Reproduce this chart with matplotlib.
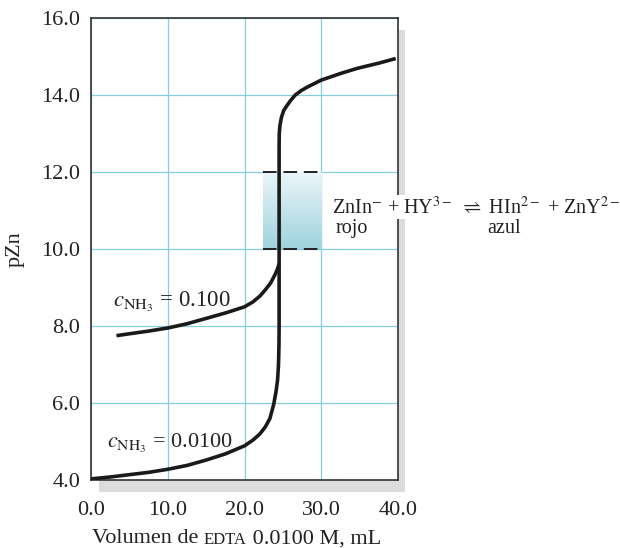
import matplotlib.pyplot as plt
import numpy as np
from matplotlib.patches import Rectangle
from matplotlib.colors import LinearSegmentedColormap

plt.rcParams['font.family'] = ['Liberation Serif', 'DejaVu Serif']
plt.rcParams['mathtext.fontset'] = 'stix'

# curva c_NH3 = 0.0100 (incluye el tramo vertical y la parte superior comun)
vol_low = [0, 2.5, 5, 7.5, 10, 12.5, 15, 17.5, 20, 21.1, 22, 22.7, 23.3, 23.8, 24.1,
           24.3, 24.42, 24.48, 24.5, 24.5, 24.52, 24.6, 24.8, 25.1, 25.5, 26.0, 26.6,
           27.4, 28.3, 30, 32.5, 34.6, 37.5, 39.7]
pzn_low = [4.03, 4.08, 4.14, 4.2, 4.28, 4.38, 4.52, 4.68, 4.89, 5.04, 5.2, 5.38, 5.6,
           5.97, 6.3, 6.6, 7.0, 7.5, 8.0, 12.7, 13.0, 13.2, 13.42, 13.6, 13.72, 13.86,
           14.0, 14.12, 14.22, 14.39, 14.56, 14.69, 14.83, 14.95]

# curva c_NH3 = 0.100 (se une al tramo vertical)
vol_high = [3.3, 5, 7.5, 10, 12.5, 15, 17.5, 20, 21.1, 22, 22.7, 23.4, 24.0, 24.3, 24.5]
pzn_high = [7.75, 7.8, 7.87, 7.95, 8.06, 8.2, 8.34, 8.5, 8.63, 8.78, 8.94, 9.12, 9.35, 9.49, 9.62]

# intervalo de viraje del indicador
zona_x = [22.45, 30.06]
zona_y = [10.0, 12.0]

xticks = [0, 10, 20, 30, 40]
yticks = [4, 6, 8, 10, 12, 14, 16]

fig = plt.figure(figsize=(6.2, 5.48), dpi=100)
ax = fig.add_axes([0.147, 0.124, 0.495, 0.843])
ax.set_zorder(2)

# sombra del marco
sombra = Rectangle((99 / 620, 1 - 492 / 548), 306 / 620, 462 / 548,
                   transform=fig.transFigure, facecolor='#dcdcdc', edgecolor='none', zorder=0)
fig.patches.append(sombra)
ax.set_facecolor('white')

ax.set_xlim(0, 40)
ax.set_ylim(4, 16)
ax.set_xticks(xticks)
ax.set_yticks(yticks)
ax.set_xticklabels(['%.1f' % v for v in xticks])
ax.set_yticklabels(['%.1f' % v for v in yticks])
ax.tick_params(length=0, labelsize=16, colors='#222222')
ax.tick_params(axis='x', pad=15)
ax.tick_params(axis='y', pad=8)
ax.grid(True, color='#86cedb', linewidth=0.9)
ax.set_axisbelow(True)
for s in ax.spines.values():
    s.set_linewidth(1.2)
    s.set_color('#333333')

# degradado del intervalo de viraje
grad = np.linspace(0, 1, 100).reshape(-1, 1)
cmap = LinearSegmentedColormap.from_list('viraje', ['#9fd3de', '#eaf5f8'])
ax.imshow(grad, extent=[zona_x[0], zona_x[1], zona_y[0], zona_y[1]], cmap=cmap,
          aspect='auto', origin='lower', zorder=1.5)
for yv in zona_y:
    ax.plot(zona_x, [yv, yv], color='#222222', lw=1.4, linestyle=(0, (7, 3.5)), zorder=2)

ax.plot(vol_low, pzn_low, color='#1a1a1a', lw=2.6, solid_capstyle='butt', zorder=3)
ax.plot(vol_high, pzn_high, color='#1a1a1a', lw=2.6, solid_capstyle='butt', zorder=3)

ax.text(2.87, 8.49, r'$c_{\mathrm{NH}_3}$ = 0.100', fontsize=16.5, color='#222222',
        va='baseline', zorder=4)
ax.text(2.12, 4.83, r'$c_{\mathrm{NH}_3}$ = 0.0100', fontsize=16, color='#222222',
        va='baseline', zorder=4)

eq = ax.text(31.4, 10.94, r'ZnIn$^{-}$ + HY$^{3-}$ $\rightleftharpoons$ HIn$^{2-}$ + ZnY$^{2-}$',
             fontsize=14.5, color='#222222', va='baseline', ha='left', clip_on=False, zorder=5,
             bbox=dict(facecolor='white', edgecolor='none', pad=1))
ax.text(31.9, 10.42, 'rojo', fontsize=14.5, color='#222222', va='baseline', clip_on=False)
ax.text(51.6, 10.42, 'azul', fontsize=14.5, color='#222222', va='baseline', clip_on=False)

ax.set_ylabel('pZn', fontsize=16, color='#222222', labelpad=12)

# etiqueta del eje x con EDTA en versalitas
t1 = fig.text(0.148, 0.009, 'Volumen de ', fontsize=16, color='#222222')
t2 = ax.annotate('EDTA', xy=(1, 0), xycoords=t1, va='bottom', fontsize=12, color='#222222',
                 annotation_clip=False)
t3 = ax.annotate(' 0.0100 M, mL', xy=(1, 0), xycoords=t2, va='bottom', fontsize=16,
                 color='#222222', annotation_clip=False)

fig.savefig('out.png', dpi=100)
